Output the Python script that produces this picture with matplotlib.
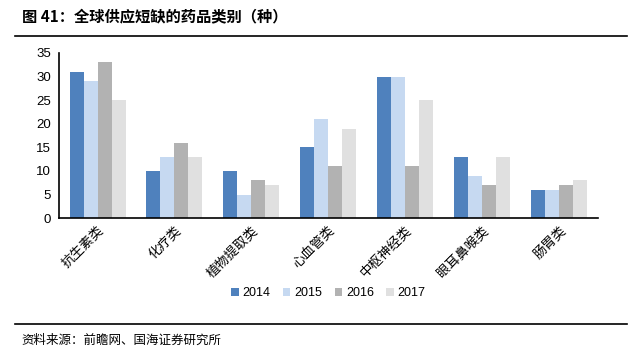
import numpy as np
import matplotlib.pyplot as plt
from matplotlib.lines import Line2D

plt.rcParams['font.family'] = ['Liberation Sans', 'Noto Sans CJK SC', 'DejaVu Sans']

categories = ['抗生素类', '化疗类', '植物提取类', '心血管类', '中枢神经类', '眼耳鼻喉类', '肠胃类']
years = ['2014', '2015', '2016', '2017']
v2014 = [31, 10, 10, 15, 30, 13, 6]
v2015 = [29, 13, 5, 21, 30, 9, 6]
v2016 = [33, 16, 8, 11, 11, 7, 7]
v2017 = [25, 13, 7, 19, 25, 13, 8]
colors = ['#4F81BD', '#C6D9F1', '#B2B2B2', '#E0E0E0']

fig = plt.figure(figsize=(6.42, 3.63), dpi=100)
ax = fig.add_axes([0.092, 0.399, 0.839, 0.455])

x = np.arange(len(categories))
w = 0.182
for i, vals in enumerate([v2014, v2015, v2016, v2017]):
    ax.bar(x + (i - 1.5) * w, vals, width=w, color=colors[i], label=years[i])

ax.set_xlim(-0.5, len(categories) - 0.5)
ax.set_ylim(0, 35)
ax.set_yticks(range(0, 36, 5))
ax.tick_params(axis='both', length=0, labelsize=9.5)
ax.tick_params(axis='y', pad=6)
ax.tick_params(axis='x', pad=4)
ax.set_xticks(x)
ax.set_xticklabels(categories, rotation=45, ha='right', rotation_mode='anchor',
                   family=['Noto Sans CJK SC'], fontsize=9.5)
for s in ['top', 'right']:
    ax.spines[s].set_visible(False)
ax.spines['left'].set_linewidth(1.2)
ax.spines['bottom'].set_linewidth(1.2)

ax.legend(loc='center', bbox_to_anchor=(0.5, -0.455), ncol=4, frameon=False,
          fontsize=9, handlelength=0.6, handleheight=0.6, handletextpad=0.3,
          columnspacing=1.0)

fig.text(0.034, 0.955, '图 41：全球供应短缺的药品类别（种）', fontsize=11, fontweight='bold',
         family=['Noto Sans CJK SC'], va='center', ha='left')
fig.add_artist(Line2D([0.023, 0.977], [0.9, 0.9], color='black', lw=1.2))
fig.add_artist(Line2D([0.023, 0.977], [0.107, 0.107], color='black', lw=1.2))
fig.text(0.034, 0.063, '资料来源：前瞻网、国海证券研究所', fontsize=9,
         family=['Noto Sans CJK SC'], va='center', ha='left')

fig.savefig('out.png', dpi=100)
